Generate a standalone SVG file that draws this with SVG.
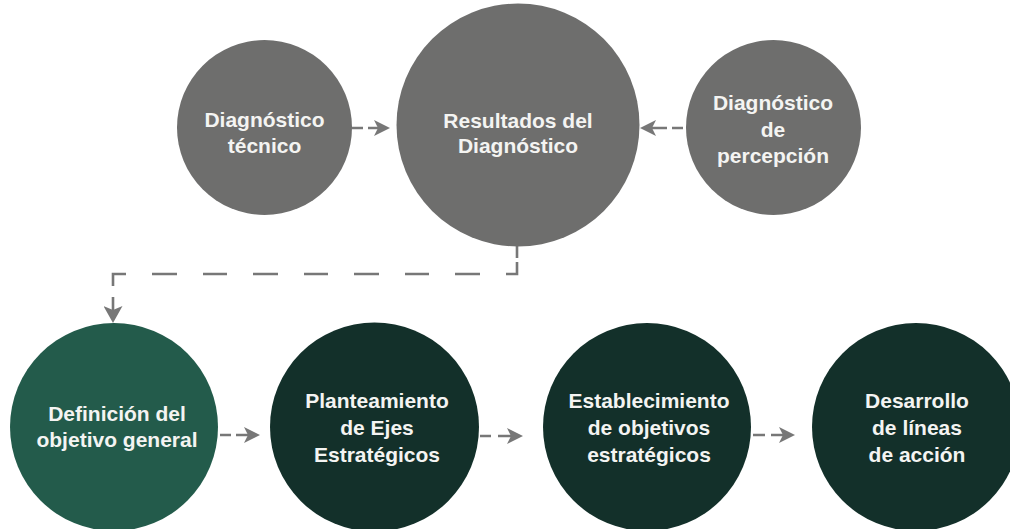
<svg xmlns="http://www.w3.org/2000/svg" width="1010" height="529" viewBox="0 0 1010 529">
  <style>
    .gray { fill: #6e6e6d; }
    .green { fill: #235b4b; }
    .dark { fill: #13302a; }
    .lbl { font-family: "Liberation Sans", Arial, sans-serif; font-weight: 700; font-size: 21px; fill: #f4f4f2; text-anchor: middle; }
    .conn { fill: none; stroke: #777777; stroke-width: 2.6; }
  </style>
  <defs>
    <marker id="arr" markerUnits="userSpaceOnUse" viewBox="0 0 16 16" markerWidth="16" markerHeight="16" refX="4" refY="8" orient="auto">
      <path d="M0,0 L16,8 L0,16 L4,8 Z" fill="#777777"/>
    </marker>
    <marker id="arrBig" markerUnits="userSpaceOnUse" viewBox="0 0 17 19" markerWidth="17" markerHeight="19" refX="4" refY="9.5" orient="auto">
      <path d="M0,0 L17,9.5 L0,19 L4,9.5 Z" fill="#777777"/>
    </marker>
  </defs>
  <rect width="1010" height="529" fill="#ffffff"/>

  <g id="connectors">
    <path class="conn" d="M352,128 H363 M368,128 H378" marker-end="url(#arr)"/>
    <path class="conn" d="M683,128 H672 M667,128 H652" marker-end="url(#arr)"/>
    <path class="conn" d="M517,246 V258 M517,262 V274 H506 M480,274 H455 M429,274 H405 M379,274 H354 M328,274 H304 M278,274 H253 M227,274 H203 M177,274 H152 M126,274 H113 V286 M113,297 V310" marker-end="url(#arrBig)"/>
    <path class="conn" d="M220,435 H231 M236,435 H248" marker-end="url(#arr)"/>
    <path class="conn" d="M480,436 H491 M498,436 H511" marker-end="url(#arr)"/>
    <path class="conn" d="M753,435 H765 M771,435 H783" marker-end="url(#arr)"/>
  </g>

  <g id="diag-tecnico">
    <circle class="gray" cx="264.5" cy="127.5" r="87.5"/>
    <text class="lbl" x="264.5" y="127">Diagnóstico</text>
    <text class="lbl" x="264.5" y="153">técnico</text>
  </g>
  <g id="resultados">
    <circle class="gray" cx="518" cy="125" r="121.5"/>
    <text class="lbl" x="518" y="128">Resultados del</text>
    <text class="lbl" x="518" y="153">Diagnóstico</text>
  </g>
  <g id="diag-percepcion">
    <circle class="gray" cx="773.5" cy="127.5" r="87.5"/>
    <text class="lbl" x="773" y="110">Diagnóstico</text>
    <text class="lbl" x="773" y="137">de</text>
    <text class="lbl" x="773" y="163">percepción</text>
  </g>

  <g id="definicion">
    <circle class="green" cx="114" cy="427" r="104"/>
    <text class="lbl" x="117" y="421">Definición del</text>
    <text class="lbl" x="117" y="447">objetivo general</text>
  </g>
  <g id="planteamiento">
    <circle class="dark" cx="374.5" cy="427" r="104.5"/>
    <text class="lbl" x="377" y="408">Planteamiento</text>
    <text class="lbl" x="377" y="435">de Ejes</text>
    <text class="lbl" x="377" y="462">Estratégicos</text>
  </g>
  <g id="establecimiento">
    <circle class="dark" cx="647" cy="427" r="104"/>
    <text class="lbl" x="649" y="408">Establecimiento</text>
    <text class="lbl" x="649" y="435">de objetivos</text>
    <text class="lbl" x="649" y="462">estratégicos</text>
  </g>
  <g id="desarrollo">
    <circle class="dark" cx="916" cy="427" r="104"/>
    <text class="lbl" x="917" y="408">Desarrollo</text>
    <text class="lbl" x="917" y="435">de líneas</text>
    <text class="lbl" x="917" y="462">de acción</text>
  </g>
</svg>
